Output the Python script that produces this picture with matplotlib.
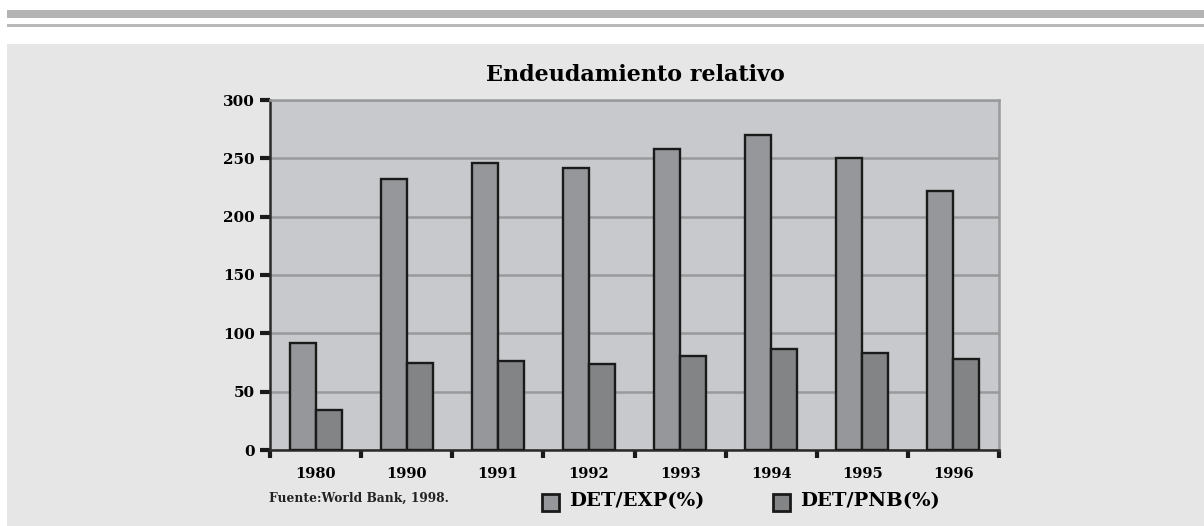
import numpy as np
import matplotlib
matplotlib.use('Agg')
import matplotlib.pyplot as plt
from matplotlib.patches import Rectangle

years = ['1980', '1990', '1991', '1992', '1993', '1994', '1995', '1996']
det_exp = [92, 232, 246, 242, 258, 270, 250, 222]
det_pnb = [34, 75, 76, 74, 81, 87, 83, 78]

serif = ['DejaVu Serif']

fig = plt.figure(figsize=(12.04, 5.26), dpi=100)
fig.patch.set_facecolor('white')

# page decorations: top bands and grey panel
def band(x0, y_top, w, h, col):
    r = Rectangle((x0/1204, 1 - (y_top + h)/526), w/1204, h/526, transform=fig.transFigure,
                  facecolor=col, edgecolor='none', zorder=-5)
    fig.patches.append(r)

band(7, 10, 1197, 8, '#b3b3b3')
band(7, 24, 1197, 3, '#b8b8b8')
band(7, 44, 1197, 482, '#e6e6e6')

ax = fig.add_axes([270/1204, 1 - 450/526, 729/1204, 350/526])
ax.set_facecolor('#c8c9cc')

x = np.arange(len(years))
w = 0.285
ax.bar(x - w/2, det_exp, w, color='#96979b', edgecolor='#1a1a1a', linewidth=1.7, zorder=3)
ax.bar(x + w/2, det_pnb, w, color='#838486', edgecolor='#1a1a1a', linewidth=1.7, zorder=3)

ax.set_xlim(-0.5, len(years) - 0.5)
ax.set_ylim(0, 300)
ax.set_yticks(range(0, 301, 50))
ax.yaxis.grid(True, color='#999a9c', linewidth=1.8, zorder=1)
ax.set_axisbelow(True)

ax.set_xticks(x)
ax.set_xticklabels(years, fontfamily=serif, fontweight='bold', fontsize=10.5)
ax.set_xticks(np.arange(-0.5, len(years)), minor=True)
ax.tick_params(axis='x', which='major', length=0, pad=12)
ax.tick_params(axis='x', which='minor', length=6, width=3, direction='out', color='#1a1a1a')
ax.tick_params(axis='y', length=7, width=3, direction='out', color='#1a1a1a', pad=4)
for lab in ax.get_yticklabels():
    lab.set_fontfamily(serif)
    lab.set_fontweight('bold')
    lab.set_fontsize(11)

for s in ['left', 'bottom']:
    ax.spines[s].set_color('#2a2a2a')
    ax.spines[s].set_linewidth(1.8)
for s in ['top', 'right']:
    ax.spines[s].set_color('#999a9c')
    ax.spines[s].set_linewidth(1.8)

fig.text(635/1204, 1 - 75/526, 'Endeudamiento relativo', ha='center', va='center',
         fontfamily=serif, fontweight='bold', fontsize=16)

fig.text(269/1204, 1 - 498/526, 'Fuente:World Bank, 1998.', ha='left', va='center',
         fontfamily=serif, fontweight='bold', fontsize=8.8, color='#222222')

# legend
for lx, label, col in [(542, 'DET/EXP(%)', '#96979b'), (773, 'DET/PNB(%)', '#838486')]:
    fig.patches.append(Rectangle((lx/1204, 1 - 511/526), 17/1204, 17/526, transform=fig.transFigure,
                                 facecolor=col, edgecolor='#1a1a1a', linewidth=2))
    fig.text((lx + 27)/1204, 1 - 501/526, label, ha='left', va='center',
             fontfamily=serif, fontweight='bold', fontsize=14)

fig.savefig('out.png', dpi=100)
